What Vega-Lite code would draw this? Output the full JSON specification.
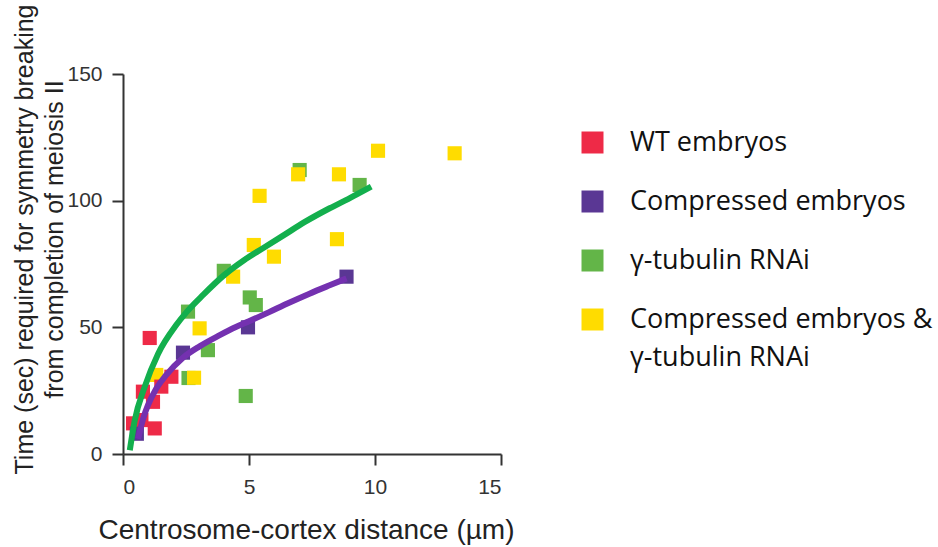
{
  "$schema": "https://vega.github.io/schema/vega-lite/v6.json",
  "width": 378,
  "height": 380,
  "autosize": {"type": "none"},
  "padding": {"left": 123, "top": 74, "right": 437, "bottom": 93},
  "background": "white",
  "config": {
    "view": {"stroke": null},
    "style": {"guide-label": {"lineHeight": 38}},
    "axis": {
      "grid": false,
      "domainColor": "#333333",
      "domainWidth": 2,
      "tickColor": "#333333",
      "tickWidth": 2,
      "tickSize": 11,
      "labelColor": "#333333",
      "labelFont": "Liberation Sans",
      "labelFontSize": 21,
      "titleFont": "Liberation Sans",
      "titleFontWeight": "normal",
      "titleColor": "#222222"
    }
  },
  "datasets": {
    "points": [
      {"group": "γ-tubulin RNAi", "x": 7.01, "y": 112.1},
      {"group": "γ-tubulin RNAi", "x": 9.39, "y": 106.2},
      {"group": "γ-tubulin RNAi", "x": 4.0, "y": 72.3},
      {"group": "γ-tubulin RNAi", "x": 5.03, "y": 61.8},
      {"group": "γ-tubulin RNAi", "x": 5.27, "y": 58.8},
      {"group": "γ-tubulin RNAi", "x": 3.37, "y": 41},
      {"group": "γ-tubulin RNAi", "x": 4.87, "y": 22.9},
      {"group": "γ-tubulin RNAi", "x": 2.58, "y": 56.2},
      {"group": "γ-tubulin RNAi", "x": 2.6, "y": 30},
      {"group": "Compressed embryos & γ-tubulin RNAi", "x": 13.16, "y": 118.7},
      {"group": "Compressed embryos & γ-tubulin RNAi", "x": 10.12, "y": 119.7},
      {"group": "Compressed embryos & γ-tubulin RNAi", "x": 8.57, "y": 110.4},
      {"group": "Compressed embryos & γ-tubulin RNAi", "x": 8.49, "y": 84.8},
      {"group": "Compressed embryos & γ-tubulin RNAi", "x": 6.95, "y": 110.4},
      {"group": "Compressed embryos & γ-tubulin RNAi", "x": 5.42, "y": 101.9},
      {"group": "Compressed embryos & γ-tubulin RNAi", "x": 5.19, "y": 82.5},
      {"group": "Compressed embryos & γ-tubulin RNAi", "x": 5.99, "y": 77.9},
      {"group": "Compressed embryos & γ-tubulin RNAi", "x": 4.37, "y": 70},
      {"group": "Compressed embryos & γ-tubulin RNAi", "x": 3.04, "y": 49.6},
      {"group": "Compressed embryos & γ-tubulin RNAi", "x": 2.82, "y": 30.1},
      {"group": "Compressed embryos & γ-tubulin RNAi", "x": 1.32, "y": 31.2},
      {"group": "WT embryos", "x": 0.4, "y": 12.1},
      {"group": "WT embryos", "x": 0.73, "y": 13.4},
      {"group": "WT embryos", "x": 1.26, "y": 10.1},
      {"group": "WT embryos", "x": 1.19, "y": 20.6},
      {"group": "WT embryos", "x": 0.79, "y": 24.6},
      {"group": "WT embryos", "x": 1.52, "y": 26.6},
      {"group": "WT embryos", "x": 1.92, "y": 30.5},
      {"group": "WT embryos", "x": 1.06, "y": 45.8},
      {"group": "Compressed embryos", "x": 0.55, "y": 8},
      {"group": "Compressed embryos", "x": 2.38, "y": 40},
      {"group": "Compressed embryos", "x": 4.96, "y": 50},
      {"group": "Compressed embryos", "x": 8.87, "y": 70}
    ],
    "fitGamma": [
      {"x": 0.27, "y": 1.5}, {"x": 0.46, "y": 13}, {"x": 0.86, "y": 26.5},
      {"x": 1.39, "y": 39.5}, {"x": 2.12, "y": 51}, {"x": 2.52, "y": 56},
      {"x": 3.2, "y": 63}, {"x": 4.0, "y": 70.5}, {"x": 4.8, "y": 76.5},
      {"x": 5.6, "y": 81.5}, {"x": 6.4, "y": 86.5}, {"x": 7.2, "y": 91.5},
      {"x": 8.2, "y": 97}, {"x": 9.0, "y": 101}, {"x": 9.85, "y": 105.5}
    ],
    "fitCompressed": [
      {"x": 0.6, "y": 6}, {"x": 0.8, "y": 14}, {"x": 1.0, "y": 19.5},
      {"x": 1.3, "y": 25.5}, {"x": 1.7, "y": 31}, {"x": 2.38, "y": 38},
      {"x": 3.04, "y": 42.5}, {"x": 3.8, "y": 46.7}, {"x": 4.5, "y": 50.2},
      {"x": 5.0, "y": 52.4}, {"x": 5.8, "y": 56}, {"x": 6.5, "y": 59.3},
      {"x": 7.4, "y": 63.3}, {"x": 8.2, "y": 66.6}, {"x": 8.87, "y": 69.3}
    ]
  },
  "encoding": {
    "x": {
      "field": "x",
      "type": "quantitative",
      "scale": {"domain": [0, 15], "nice": false},
      "axis": {
        "values": [0, 5, 10, 15],
        "labelPadding": 11,
        "title": "Centrosome-cortex distance (µm)",
        "titleFontSize": 28,
        "titleX": 183,
        "titleY": 84,
        "titleBaseline": "alphabetic",
        "titleAlign": "center"
      }
    },
    "y": {
      "field": "y",
      "type": "quantitative",
      "scale": {"domain": [0, 150], "nice": false},
      "axis": {
        "values": [0, 50, 100, 150],
        "labelPadding": 10,
        "title": ["Time (sec) required for symmetry breaking", "from completion of meiosis II"],
        "titleFontSize": 25,
        "titleLineHeight": 30,
        "titleX": -91,
        "titleY": 165,
        "titleAngle": -90,
        "titleBaseline": "alphabetic",
        "titleAlign": "center"
      }
    }
  },
  "layer": [
    {
      "data": {"name": "points"},
      "mark": {"type": "square", "size": 200, "opacity": 1},
      "encoding": {
        "color": {
          "field": "group",
          "type": "nominal",
          "scale": {
            "domain": ["WT embryos", "Compressed embryos", "γ-tubulin RNAi", "Compressed embryos & γ-tubulin RNAi"],
            "range": ["#EE2A47", "#5A3794", "#63B548", "#FFDC00"]
          },
          "legend": {
            "orient": "none",
            "legendX": 456,
            "legendY": 55,
            "padding": 0,
            "title": null,
            "symbolType": "square",
            "symbolSize": 484,
            "symbolStrokeWidth": 0,
            "symbolOpacity": 1,
            "labelFont": "Open Sans",
            "labelFontSize": 27,
            "labelColor": "#111111",
            "labelOffset": 24,
            "labelLimit": 400,
            "rowPadding": 31,
            "labelExpr": "datum.label === 'Compressed embryos & γ-tubulin RNAi' ? ['Compressed embryos &', 'γ-tubulin RNAi'] : datum.label"
          }
        }
      }
    },
    {
      "data": {"name": "fitGamma"},
      "mark": {"type": "line", "color": "#13AF4D", "strokeWidth": 6, "interpolate": "monotone"},
      "encoding": {}
    },
    {
      "data": {"name": "fitCompressed"},
      "mark": {"type": "line", "color": "#7431B0", "strokeWidth": 6, "interpolate": "monotone"},
      "encoding": {}
    }
  ]
}
